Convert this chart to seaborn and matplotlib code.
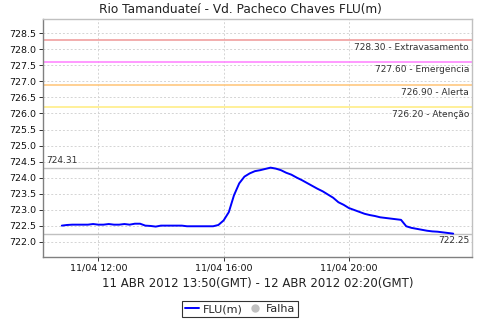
import matplotlib
matplotlib.use("Agg")
import matplotlib.pyplot as plt
import matplotlib.dates as mdates
from matplotlib.lines import Line2D
import seaborn as sns
import pandas as pd
import numpy as np

sns.set_theme(style="white")
plt.rcParams['font.family'] = ['DejaVu Sans']

title = "Rio Tamanduateí - Vd. Pacheco Chaves FLU(m)"
xlabel = "11 ABR 2012 13:50(GMT) - 12 ABR 2012 02:20(GMT)"
start_time = "2012-04-11 10:50"
step = "10min"
flu = [722.50, 722.52, 722.53, 722.53, 722.53, 722.53, 722.55, 722.53, 722.53, 722.55,
       722.53, 722.53, 722.55, 722.53, 722.56, 722.56, 722.50, 722.49, 722.47, 722.50,
       722.50, 722.50, 722.50, 722.50, 722.48, 722.48, 722.48, 722.48, 722.48, 722.48,
       722.52, 722.66, 722.92, 723.45, 723.82, 724.03, 724.13, 724.20, 724.23, 724.27,
       724.31, 724.28, 724.23, 724.15, 724.09, 724.00, 723.92, 723.83, 723.74, 723.65,
       723.57, 723.47, 723.37, 723.23, 723.15, 723.05, 722.99, 722.93, 722.87, 722.83,
       722.80, 722.76, 722.74, 722.72, 722.70, 722.68, 722.48, 722.43, 722.40, 722.37,
       722.34, 722.32, 722.31, 722.29, 722.27, 722.25]
thr_values = [728.30, 727.60, 726.90, 726.20]
thr_names = ["Extravasamento", "Emergencia", "Alerta", "Atenção"]
thr_colors = ["#f0a0a0", "#ff88ff", "#ffc880", "#ffee88"]
y_ticks = [722.0, 722.5, 723.0, 723.5, 724.0, 724.5, 725.0, 725.5, 726.0, 726.5,
           727.0, 727.5, 728.0, 728.5]
x_ticks = ["2012-04-11 12:00", "2012-04-11 16:00", "2012-04-11 20:00"]
x_limits = ["2012-04-11 10:14", "2012-04-11 23:56"]
y_limits = [721.53, 728.94]

times = pd.date_range(start_time, periods=len(flu), freq=step)
df = pd.DataFrame({"time": times, "FLU(m)": flu})

fig = plt.figure(figsize=(4.8, 3.2), dpi=100)
ax = fig.add_axes([43/480, 1-256.7/320, (472-43)/480, (256.7-19.3)/320])

ax.set_xlim(pd.to_datetime(x_limits[0]), pd.to_datetime(x_limits[1]))
ax.set_ylim(*y_limits)
ax.set_yticks(y_ticks)
ax.set_yticklabels([f"{v:.1f}" for v in y_ticks])
ax.set_xticks(pd.to_datetime(x_ticks))
ax.xaxis.set_major_formatter(mdates.DateFormatter("%d/%m %H:%M"))
ax.grid(True, color="#d4d4d4", linestyle=(0, (2, 2)), linewidth=0.7)
ax.set_axisbelow(True)

for v, c in zip(thr_values, thr_colors):
    ax.axhline(v, color=c, linewidth=1.2, zorder=2)
vmax, vmin = max(flu), min(flu)
ax.axhline(vmax, color="#c0c0c0", linewidth=1.0, zorder=2)
ax.axhline(vmin, color="#c0c0c0", linewidth=1.0, zorder=2)

sns.lineplot(data=df, x="time", y="FLU(m)", ax=ax, color="#0000ff", linewidth=1.4,
             zorder=3, legend=False)

tr = ax.get_yaxis_transform()
for v, n in zip(thr_values, thr_names):
    ax.text(0.993, v - 0.09, f"{v:.2f} - {n}", transform=tr, ha="right", va="top",
            fontsize=6.5, color="#333333")
ax.text(0.007, vmax + 0.08, f"{vmax:.2f}", transform=tr, ha="left", va="bottom",
        fontsize=6.5, color="#333333")
ax.text(0.993, vmin - 0.08, f"{vmin:.2f}", transform=tr, ha="right", va="top",
        fontsize=6.5, color="#333333")

ax.set_xlabel(xlabel, fontsize=8.5, color="#222222", labelpad=3)
ax.set_ylabel("")
ax.tick_params(axis="both", labelsize=6.8, colors="#111111", length=3, width=0.6,
               direction="out", pad=2)
ax.tick_params(axis="both", which="both", bottom=True, left=True)
for s in ["left", "bottom"]:
    ax.spines[s].set_color("#808080")
    ax.spines[s].set_linewidth(1.0)
for s in ["top", "right"]:
    ax.spines[s].set_color("#c0c0c0")
    ax.spines[s].set_linewidth(1.0)

fig.text(0.5, 1-9.5/320, title, ha="center", va="center", fontsize=8.7, color="#222222")

handles = [Line2D([0], [0], color="#0000ff", linewidth=1.4),
           Line2D([0], [0], marker="o", linestyle="none", markersize=5,
                  markerfacecolor="#c0c0c0", markeredgecolor="#c0c0c0")]
leg = fig.legend(handles, ["FLU(m)", "Falha"], loc="center", bbox_to_anchor=(0.5, 1-309/320),
                 ncol=2, fontsize=8, frameon=True, fancybox=False, handlelength=1.3,
                 handletextpad=0.3, columnspacing=0.5, borderpad=0.25, borderaxespad=0)
leg.get_frame().set_edgecolor("black")
leg.get_frame().set_linewidth(0.8)

fig.savefig("out.png", dpi=100)
